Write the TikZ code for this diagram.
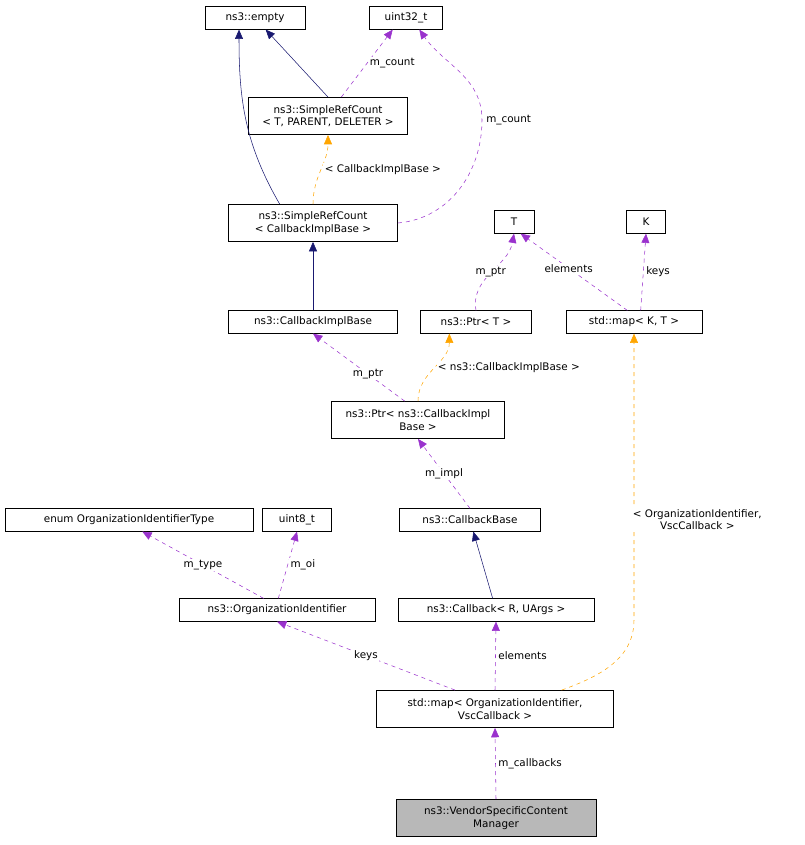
\documentclass[tikz,border=0pt]{standalone}
\usepackage{fontspec}
\setmainfont{DejaVu Sans}
\usetikzlibrary{arrows.meta,positioning}
\definecolor{inhcol}{HTML}{191970}
\definecolor{usecol}{HTML}{9A32CD}
\definecolor{tplcol}{HTML}{FFA500}

\begin{document}
\begin{tikzpicture}[
    x=0.75pt, y=-0.75pt,
    font=\fontsize{7.8}{9.2}\selectfont,
    box/.style={
        rectangle,
        draw=black,
        fill=white,
        inner sep=2pt,
        minimum height=17pt,
        align=center
    },
    two/.style={
        minimum height=28pt
    },
    inh/.style={
        draw=inhcol,
        -{Triangle[length=7pt,width=6pt]}
    },
    use/.style={
        draw=usecol,
        dashed,
        -{Triangle[length=7pt,width=6pt,fill=usecol]}
    },
    tpl/.style={
        draw=tplcol,
        dashed,
        -{Triangle[length=7pt,width=6pt,fill=tplcol]}
    },
    lbl/.style={
        fill=white,
        inner sep=1pt,
        align=center
    }
]
\useasboundingbox (0,0) rectangle (805,845);
% --- boxes ---
\node[box, minimum width=75pt] (empty) at (255,18) {ns3::empty};
\node[box, minimum width=55pt] (u32) at (406,18) {uint32\_t};
\node[box, two, minimum width=119pt] (srct) at (328,116) {ns3::SimpleRefCount\\\textless{} T, PARENT, DELETER \textgreater};
\node[box, two, minimum width=127pt] (srcb) at (313,223) {ns3::SimpleRefCount\\\textless{} CallbackImplBase \textgreater};
\node[box, minimum width=30pt] (T) at (514,222) {T};
\node[box, minimum width=29pt] (K) at (646,222) {K};
\node[box, minimum width=127pt] (cib) at (313,322) {ns3::CallbackImplBase};
\node[box, minimum width=83pt] (ptrt) at (476,322) {ns3::Ptr\textless{} T \textgreater};
\node[box, minimum width=102pt] (mapkt) at (634,322) {std::map\textless{} K, T \textgreater};
\node[box, two, minimum width=130pt] (ptrb) at (418,420) {ns3::Ptr\textless{} ns3::CallbackImpl\\Base \textgreater};
\node[box, minimum width=186pt] (enum) at (129,520) {enum OrganizationIdentifierType};
\node[box, minimum width=52pt] (u8) at (297,520) {uint8\_t};
\node[box, minimum width=106pt] (cbb) at (470,520) {ns3::CallbackBase};
\node[box, minimum width=147pt] (oid) at (277,610) {ns3::OrganizationIdentifier};
\node[box, minimum width=147pt] (cb) at (496,610) {ns3::Callback\textless{} R, UArgs \textgreater};
\node[box, two, minimum width=178pt] (mapo) at (495,709) {std::map\textless{} OrganizationIdentifier,\\VscCallback \textgreater};
\node[box, two, minimum width=150pt, fill=black!28] (vscm) at (496,818) {ns3::VendorSpecificContent\\Manager};
% --- inheritance ---
\draw[inh] ([xshift=-25pt]srcb.north) to[out=120,in=-90] ([xshift=-12pt]empty.south);
\draw[inh] (srct.north) -- ([xshift=8pt]empty.south);
\draw[inh] (cib) -- (srcb);
\draw[inh] (cb) -- (cbb);
% --- usage ---
\draw[use] ([xshift=10pt]srct.north) -- node[lbl, right=1pt] {m\_count} ([xshift=-10pt]u32.south);
\draw[use] (srcb.east) to[out=5,in=-90] (482,120) node[lbl, right=2pt] {m\_count} to[out=90,in=-55] ([xshift=10pt]u32.south);
\draw[use] (ptrt.north) to[out=100,in=-100] node[lbl] {m\_ptr} (T.south);
\draw[use] ([xshift=-5pt]mapkt.north) -- node[lbl, pos=0.55] {elements} ([xshift=5pt]T.south);
\draw[use] ([xshift=5pt]mapkt.north) -- node[lbl, right=1pt] {keys} (K.south);
\draw[use] ([xshift=-10pt]ptrb.north) -- node[lbl, pos=0.4] {m\_ptr} (cib.south);
\draw[use] (cbb.north) -- node[lbl] {m\_impl} (ptrb.south);
\draw[use] ([xshift=-10pt]oid.north) -- node[lbl] {m\_type} ([xshift=10pt]enum.south);
\draw[use] ([xshift=1pt]oid.north) -- node[lbl, right=1pt] {m\_oi} (u8.south);
\draw[use] ([xshift=-30pt]mapo.north) -- node[lbl] {keys} (oid.south);
\draw[use] (mapo.north) -- node[lbl, right=1pt] {elements} (cb.south);
\draw[use] (vscm.north) -- node[lbl, right=1pt] {m\_callbacks} (mapo.south);
% --- templates ---
\draw[tpl] (srcb.north) to[out=90,in=-90] node[lbl, right=2pt] {\textless{} CallbackImplBase \textgreater} (srct.south);
\draw[tpl] ([xshift=0pt]ptrb.north) to[out=90,in=-90] node[lbl, right=2pt] {\textless{} ns3::CallbackImplBase \textgreater} ([xshift=-20pt]ptrt.south);
\draw[tpl] ([xshift=50pt]mapo.north) to[out=20,in=-90] (634,620) -- node[lbl, pos=0.35, right=-2pt] {\textless{} OrganizationIdentifier,\\VscCallback \textgreater} (mapkt.south);
\end{tikzpicture}
\end{document}
